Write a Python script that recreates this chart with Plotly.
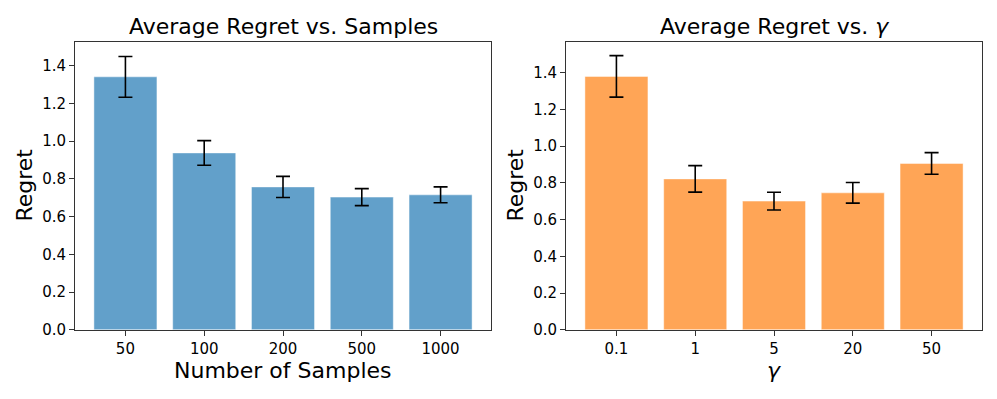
import plotly.graph_objects as go
from plotly.subplots import make_subplots

# data
samples = ["50", "100", "200", "500", "1000"]
regret_samples = [1.34, 0.937, 0.757, 0.703, 0.715]
err_samples = [0.108, 0.065, 0.056, 0.045, 0.042]

gammas = ["0.1", "1", "5", "20", "50"]
regret_gamma = [1.380, 0.822, 0.701, 0.746, 0.906]
err_gamma = [0.113, 0.072, 0.048, 0.056, 0.059]

W, H = 997, 399
H_SEEN = 391  # the plot comes out a bit shorter than asked in the browser
FONT = "DejaVu Sans"


def px_x(x):
    return x / W


def px_y(y):
    return 1 - y / H_SEEN


fig = make_subplots(rows=1, cols=2)

fig.add_trace(go.Bar(
    x=samples, y=regret_samples,
    marker=dict(color="#62a0ca", line=dict(color="rgba(255,255,255,0.45)", width=1)),
    error_y=dict(type="data", array=err_samples, color="black", thickness=1.6, width=7),
), row=1, col=1)

fig.add_trace(go.Bar(
    x=gammas, y=regret_gamma,
    marker=dict(color="#ffa556", line=dict(color="rgba(255,255,255,0.45)", width=1)),
    error_y=dict(type="data", array=err_gamma, color="black", thickness=1.6, width=7),
), row=1, col=2)

y_dom = [px_y(330.7), px_y(42)]
axis_common = dict(
    showline=True, linecolor="#333333", linewidth=1, mirror=True,
    ticks="outside", ticklen=5, tickcolor="#333333",
    showgrid=False, zeroline=False,
    tickfont=dict(family=FONT, size=15, color="black"),
)

ytv = [0, 0.2, 0.4, 0.6, 0.8, 1.0, 1.2, 1.4]
ytt = ["0.0", "0.2", "0.4", "0.6", "0.8", "1.0", "1.2", "1.4"]

fig.update_xaxes(**axis_common)
fig.update_yaxes(**axis_common)
fig.update_layout(
    xaxis=dict(domain=[px_x(75), px_x(491)], range=[-0.64, 4.64]),
    xaxis2=dict(domain=[px_x(566), px_x(982)], range=[-0.64, 4.64]),
    yaxis=dict(domain=y_dom, range=[0, 1.525], tickvals=ytv, ticktext=ytt),
    yaxis2=dict(domain=y_dom, range=[0, 1.568], tickvals=ytv, ticktext=ytt),
    bargap=0.2,
    showlegend=False,
    plot_bgcolor="white",
    paper_bgcolor="white",
    width=W, height=H,
    margin=dict(l=0, r=0, t=0, b=0),
    font=dict(family=FONT, color="black"),
)

# titles and axis labels
def label(text, x, y, size, angle=0):
    fig.add_annotation(text=text, x=px_x(x), y=px_y(y), xref="paper", yref="paper",
                       showarrow=False, textangle=angle,
                       font=dict(family=FONT, size=size, color="black"),
                       xanchor="center", yanchor="middle")

label("Average Regret vs. Samples", 283, 27, 22)
label("Average Regret vs. <i>γ</i>", 774, 27, 22)
label("Number of Samples", 283, 371, 22)
label("<i>γ</i>", 774, 371, 22)
label("Regret", 25, 186, 22, -90)
label("Regret", 516, 186, 22, -90)

# drop the default body margin so the figure sits at the page corner
fig.write_html("out.html", config={"displayModeBar": False},
               post_script="document.body.style.margin = '0';")
